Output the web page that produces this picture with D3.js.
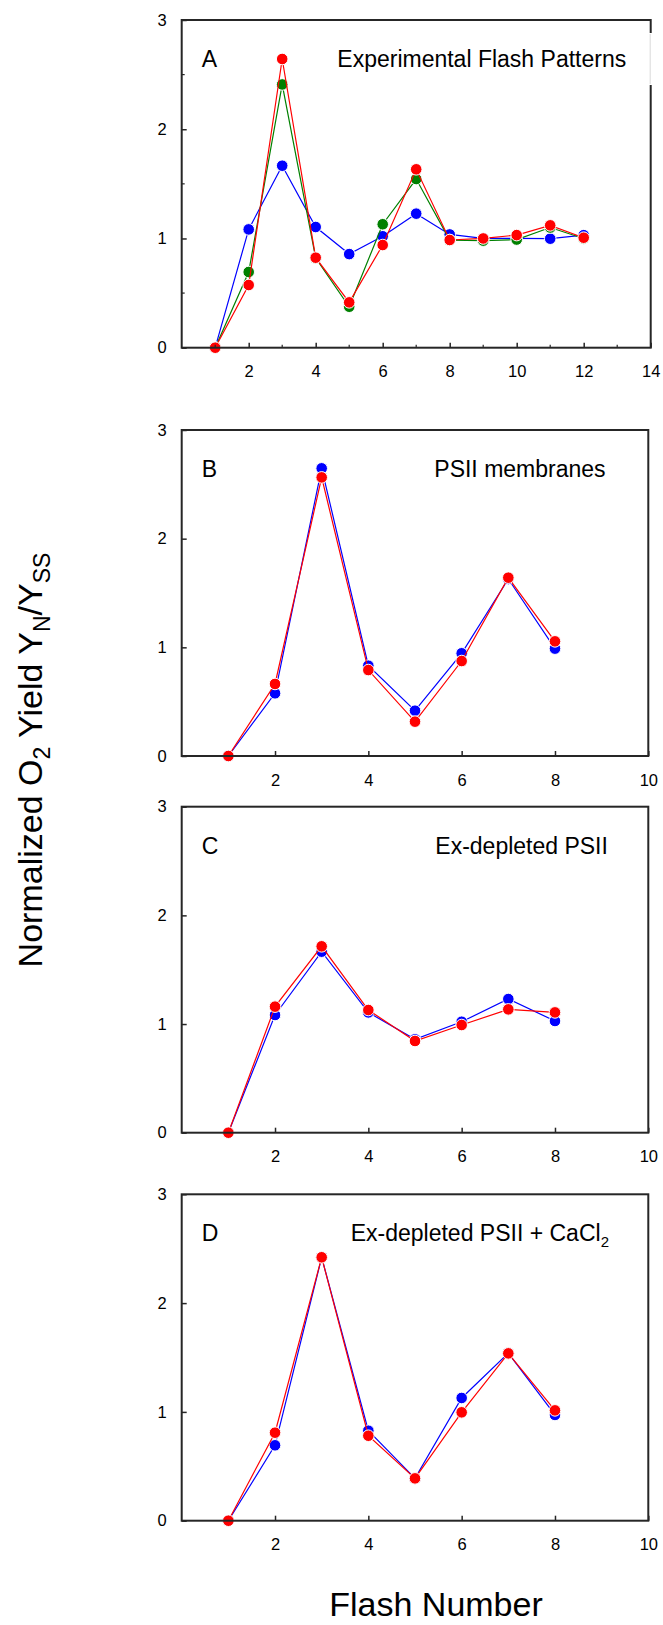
<!DOCTYPE html>
<html><head><meta charset="utf-8">
<script src="https://cdn.jsdelivr.net/npm/d3@7"></script>
<style>body{margin:0;background:#fff}svg{display:block;font-family:"Liberation Sans",Arial,sans-serif}</style>
</head><body>
<svg id="chart" width="663" height="1625"></svg>
<script>
// ---- data ----
const flashA = [1,2,3,4,5,6,7,8,9,10,11,12];
const flashBCD = [1,2,3,4,5,6,7,8];
const aBlue  = [0,1.083,1.666,1.105,0.857,1.02,1.227,1.037,1.0,1.0,0.998,1.03];
const aGreen = [0,0.693,2.41,0.82,0.375,1.13,1.544,0.985,0.98,0.99,1.10,1.0];
const aRed   = [0,0.574,2.643,0.824,0.415,0.94,1.633,0.986,1.0,1.031,1.12,1.007];
const bBlue  = [0,0.577,2.647,0.831,0.417,0.945,1.629,0.988];
const bRed   = [0,0.663,2.564,0.791,0.316,0.874,1.641,1.055];
const cBlue  = [0,1.083,1.666,1.107,0.859,1.021,1.23,1.028];
const cRed   = [0,1.16,1.715,1.129,0.844,0.991,1.135,1.107];
const dBlue  = [0,0.693,2.42,0.827,0.389,1.128,1.54,0.972];
const dRed   = [0,0.809,2.421,0.781,0.389,0.996,1.538,1.014];
const yTicks = [0,1,2,3];
const xTicksA = [2,4,6,8,10,12,14];
const xTicksBCD = [2,4,6,8,10];
const panelLetters = ["A","B","C","D"];
const panelTitles = ["Experimental Flash Patterns","PSII membranes","Ex-depleted PSII","Ex-depleted PSII + CaCl"];
const colors = {blue:"#0000ff", green:"#008000", red:"#ff0000"};

const panels = [
  {top:20, h:327.7, w:469, xmax:14, xt:xTicksA, minor:true, letter:0, titleX:155.6,
   series:[[flashA,aBlue,colors.blue],[flashA,aGreen,colors.green],[flashA,aRed,colors.red]]},
  {top:430, h:326, w:466.6, xmax:10, xt:xTicksBCD, minor:false, letter:1, titleX:252.6,
   series:[[flashBCD,bBlue,colors.blue],[flashBCD,bRed,colors.red]]},
  {top:806.7, h:326, w:466.6, xmax:10, xt:xTicksBCD, minor:false, letter:2, titleX:253.6,
   series:[[flashBCD,cBlue,colors.blue],[flashBCD,cRed,colors.red]]},
  {top:1194.3, h:326.4, w:466.6, xmax:10, xt:xTicksBCD, minor:false, letter:3, titleX:169,
   series:[[flashBCD,dBlue,colors.blue],[flashBCD,dRed,colors.red]]}
];
const left = 181.7;
const svg = d3.select("#chart");
const frameCol = "#262626";

panels.forEach((p,i)=>{
  const g = svg.append("g").attr("transform",`translate(${left},${p.top})`);
  const x = d3.scaleLinear().domain([0,p.xmax]).range([0,p.w]);
  const y = d3.scaleLinear().domain([0,3]).range([p.h,0]);

  // series
  p.series.forEach(([xs,ys,col])=>{
    const pts = xs.map((v,k)=>[v,ys[k]]);
    g.append("path").datum(pts)
      .attr("fill","none").attr("stroke",col).attr("stroke-width",1.2)
      .attr("d", d3.line().x(d=>x(d[0])).y(d=>y(d[1])));
    g.selectAll(null).data(pts).enter().append("circle")
      .attr("cx",d=>x(d[0])).attr("cy",d=>y(d[1])).attr("r",5.8)
      .attr("fill",col).attr("stroke","#fff").attr("stroke-width",1);
  });

  // frame
  g.append("rect").attr("x",0).attr("y",0).attr("width",p.w).attr("height",p.h)
    .attr("fill","none").attr("stroke",frameCol).attr("stroke-width",2);
  if(i===0){
    g.append("rect").attr("x",p.w-2).attr("y",13).attr("width",4).attr("height",52).attr("fill","#fff");
    g.append("line").attr("x1",p.w-0.5).attr("x2",p.w-0.5).attr("y1",14).attr("y2",64)
      .attr("stroke","#d0d0d0").attr("stroke-width",0.8);
  }

  // axes
  const yAxis = d3.axisLeft(y).tickValues(yTicks).tickSize(-5).tickPadding(15).tickFormat(d3.format("d"));
  const ya = g.append("g").call(yAxis);
  const xAxis = d3.axisBottom(x).tickValues(p.xt).tickSize(-5).tickPadding(18).tickFormat(d3.format("d"));
  const xa = g.append("g").attr("transform",`translate(0,${p.h})`).call(xAxis);
  [ya,xa].forEach(a=>{
    a.select(".domain").remove();
    a.selectAll(".tick line").attr("stroke",frameCol).attr("stroke-width",1.5);
    a.selectAll(".tick text").attr("font-size",16.5).attr("fill","#000")
      .attr("font-family","Liberation Sans, Arial, sans-serif");
  });
  if(p.minor){
    const ym = [0.5,1.5,2.5];
    g.selectAll(null).data(ym).enter().append("line")
      .attr("x1",0).attr("x2",3).attr("y1",d=>y(d)).attr("y2",d=>y(d))
      .attr("stroke",frameCol).attr("stroke-width",1.2);
    const xm = d3.range(1,p.xmax,2);
    g.selectAll(null).data(xm).enter().append("line")
      .attr("x1",d=>x(d)).attr("x2",d=>x(d)).attr("y1",p.h).attr("y2",p.h-3)
      .attr("stroke",frameCol).attr("stroke-width",1.2);
  }

  // labels
  g.append("text").attr("x",20).attr("y",47).attr("font-size",23).text(panelLetters[p.letter]);
  const t = g.append("text").attr("x",p.titleX).attr("y",47).attr("font-size",23).text(panelTitles[i]);
  if(i===3){
    t.append("tspan").attr("font-size",15).attr("dy",6).text("2");
  }
});

// y axis title
const yt = svg.append("text").attr("transform","translate(41.5,760) rotate(-90)")
  .attr("text-anchor","middle").attr("font-size",34);
yt.append("tspan").text("Normalized O");
yt.append("tspan").attr("font-size",23).attr("dy",8).text("2");
yt.append("tspan").attr("dy",-8).text(" Yield Y");
yt.append("tspan").attr("font-size",23).attr("dy",8).text("N");
yt.append("tspan").attr("dy",-8).text("/Y");
yt.append("tspan").attr("font-size",23).attr("dy",8).text("SS");

// x axis title
svg.append("text").attr("x",436).attr("y",1616).attr("text-anchor","middle")
  .attr("font-size",34).text("Flash Number");
</script>
</body></html>
